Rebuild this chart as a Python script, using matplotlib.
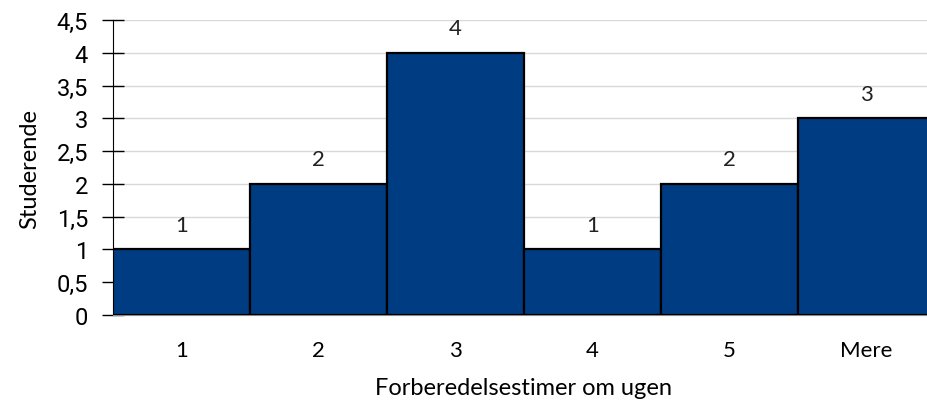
import matplotlib
matplotlib.use("Agg")
import matplotlib.pyplot as plt

categories = ["1", "2", "3", "4", "5", "Mere"]
counts = [1, 2, 4, 1, 2, 3]
yticks = [0, 0.5, 1, 1.5, 2, 2.5, 3, 3.5, 4, 4.5]
ytick_labels = ["0", "0,5", "1", "1,5", "2", "2,5", "3", "3,5", "4", "4,5"]

plt.rcParams['font.family'] = ['Lato', 'DejaVu Sans']

fig = plt.figure(figsize=(9.28, 4.06), dpi=100)
ax = fig.add_axes([113 / 928, 1 - 316 / 406, 822 / 928, 295 / 406])

x = list(range(len(categories)))
ax.bar(x, counts, width=1.0, color="#003c82", edgecolor="black", linewidth=1.6, zorder=3)
for xi, c in zip(x, counts):
    ax.text(xi, c + 0.22, str(c), ha="center", va="bottom", fontsize=16, color="#222222")

ax.set_xlim(-0.5, len(categories) - 0.5)
ax.set_ylim(0, 4.5)
ax.set_yticks(yticks)
ax.set_yticklabels(ytick_labels, family=['Roboto', 'DejaVu Sans'])
ax.set_xticks(x)
ax.set_xticklabels(categories)
ax.yaxis.grid(True, color="#d9d9d9", linewidth=1, zorder=0)

for s in ["top", "right"]:
    ax.spines[s].set_visible(False)
ax.spines["left"].set_color("black")
ax.spines["bottom"].set_color("#888888")
ax.tick_params(axis="y", direction="inout", length=16, width=1, labelsize=17, pad=10)
ax.tick_params(axis="x", length=0, labelsize=16, pad=18)

ax.set_xlabel("Forberedelsestimer om ugen", fontsize=17, labelpad=12)
ax.set_ylabel("Studerende", fontsize=17, labelpad=12)

fig.savefig("out.png", dpi=100)
